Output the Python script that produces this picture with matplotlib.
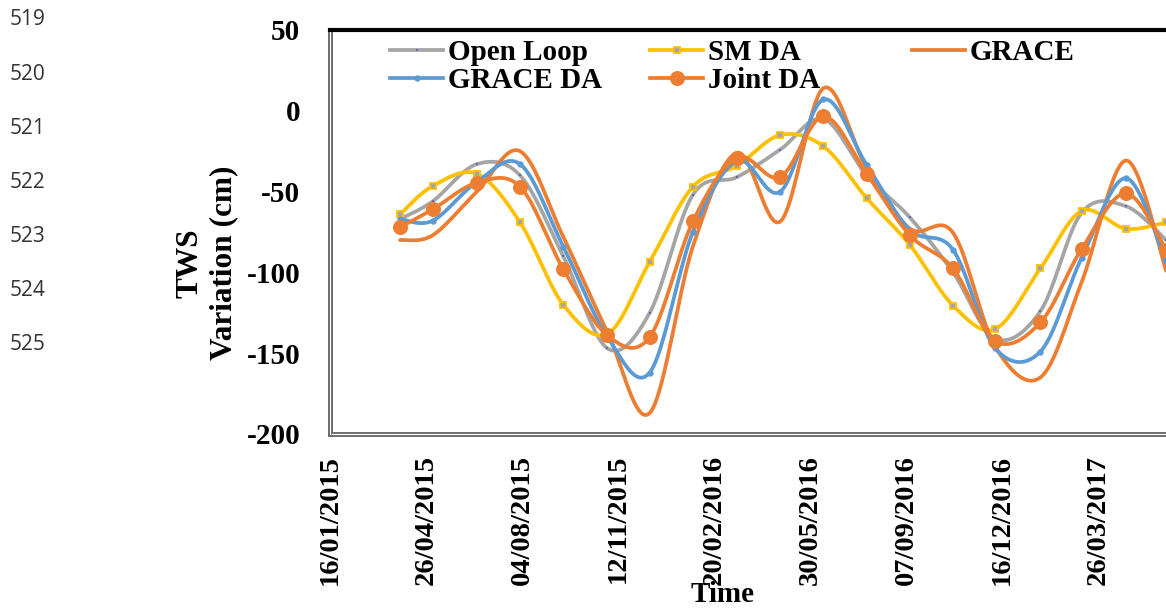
import numpy as np
import matplotlib
matplotlib.use("Agg")
import matplotlib.pyplot as plt
import matplotlib.dates as mdates
from matplotlib.lines import Line2D
import datetime as dt

# ---------------- data ----------------
dates = ["30/03/2015", "03/05/2015", "18/06/2015", "02/08/2015", "16/09/2015",
         "01/11/2015", "15/12/2015", "29/01/2016", "15/03/2016", "29/04/2016",
         "13/06/2016", "28/07/2016", "11/09/2016", "26/10/2016", "09/12/2016",
         "25/01/2017", "09/03/2017", "24/04/2017", "05/06/2017"]
open_loop = [-67, -56, -33, -40, -90, -147, -125, -52, -41, -24, -5, -40,
             -66, -100, -141, -124, -63, -59, -80]
sm_da = [-64, -46.5, -39, -69, -120, -138, -93.5, -47, -34, -15, -22, -54,
         -83, -120.5, -135, -97.5, -62, -73, -69]
grace = [-80, -77, -50, -25, -78, -137, -187, -84, -26, -68.5, 14, -35.5,
         -73, -75.5, -146, -165, -106, -30.8, -99]
grace_da = [-67, -68, -44, -33, -84, -140, -162, -75, -31, -50, 7, -33.4,
            -73.6, -86, -147, -149, -91, -41.7, -93]
joint_da = [-72, -61, -44.5, -47, -98, -139, -140, -68.5, -29, -41, -3.5, -39,
            -77, -97.5, -142.5, -131, -85.5, -51, -86]

tick_labels = ["16/01/2015", "26/04/2015", "04/08/2015", "12/11/2015",
               "20/02/2016", "30/05/2016", "07/09/2016", "16/12/2016",
               "26/03/2017"]
y_ticks = [50, 0, -50, -100, -150, -200]
line_numbers = ["519", "520", "521", "522", "523", "524", "525"]


def to_num(s):
    return mdates.date2num(dt.datetime.strptime(s, "%d/%m/%Y"))


def smooth(x, y, n=40):
    # Excel-style smoothed line (Catmull-Rom via cubic Bezier)
    P = np.column_stack([x, y]).astype(float)
    P = np.vstack([P[0], P, P[-1]])
    out = []
    t = np.linspace(0, 1, n)[:, None]
    for i in range(1, len(P) - 2):
        p0, p1, p2, p3 = P[i - 1], P[i], P[i + 1], P[i + 2]
        c1 = p1 + (p2 - p0) / 6.0
        c2 = p2 - (p3 - p1) / 6.0
        seg = ((1 - t) ** 3) * p1 + 3 * ((1 - t) ** 2) * t * c1 + \
            3 * (1 - t) * t ** 2 * c2 + t ** 3 * p2
        out.append(seg if i == 1 else seg[1:])
    out = np.vstack(out)
    return out[:, 0], out[:, 1]


W, H = 1166, 608
fig = plt.figure(figsize=(W / 100, H / 100), dpi=100)
fig.patch.set_facecolor("white")

SERIF = "Liberation Serif"

ax_left, ax_right, ax_top, ax_bot = 330, 1180, 30, 434
ax = fig.add_axes([ax_left / W, 1 - ax_bot / H, (ax_right - ax_left) / W,
                   (ax_bot - ax_top) / H])

xnum = np.array([to_num(d) for d in dates])
tick_pos = [to_num(s) for s in tick_labels]
start = tick_pos[0]
px_per_day = (1098 - 330) / 800.0
ax.set_xlim(start, start + (ax_right - ax_left) / px_per_day)
ax.set_ylim(-200, 50)

C_GRAY = "#A5A5A5"
C_YEL = "#FFC000"
C_ORG = "#ED7D31"
C_BLUE = "#5B9BD5"
LW = 2.7

series = [
    ("Open Loop", open_loop, C_GRAY, dict(marker="s", ms=1.8, mfc="#5b6fa6", mec="#5b6fa6", mew=0)),
    ("SM DA", sm_da, C_YEL, dict(marker="s", ms=4.3, mfc=C_GRAY, mec=C_YEL, mew=1.3)),
    ("GRACE", grace, C_ORG, None),
    ("GRACE DA", grace_da, C_BLUE, dict(marker="o", ms=4.6, mfc=C_BLUE, mec=C_BLUE, mew=0)),
    ("Joint DA", joint_da, C_ORG, dict(marker="o", ms=10.8, mfc=C_ORG, mec=C_ORG, mew=0)),
]

for k, (name, vals, col, mk) in enumerate(series):
    sx, sy = smooth(xnum, vals)
    ax.plot(sx, sy, color=col, lw=LW, solid_capstyle="round", zorder=3 + k)
    if mk is not None:
        ax.plot(xnum, vals, linestyle="none", zorder=3 + k, **mk)

# axes styling
ax.set_xticks(tick_pos)
ax.set_xticklabels(tick_labels, rotation=90, fontsize=20.5, fontweight="bold",
                   family=SERIF, va="top", ha="center")
ax.set_yticks(y_ticks)
ax.set_yticklabels([str(v) for v in y_ticks], fontsize=21, fontweight="bold",
                   family=SERIF)
ax.tick_params(axis="both", length=0)
ax.tick_params(axis="y", pad=21.5)
ax.tick_params(axis="x", pad=15)

ax.spines["right"].set_visible(False)
ax.spines["top"].set_color("black")
ax.spines["top"].set_linewidth(3.0)
for s in ("left", "bottom"):
    ax.spines[s].set_color("#6e6e6e")
    ax.spines[s].set_linewidth(3.6)
ax.plot([0, 0], [0, 0.995], transform=ax.transAxes, color="white", lw=0.8,
        clip_on=False, zorder=10)
ax.plot([0.002, 1], [0, 0], transform=ax.transAxes, color="white", lw=0.8,
        clip_on=False, zorder=10)

# manual legend (fixed column positions)
def fx(px):
    return px / W


def fy(py):
    return 1 - py / H


legend_items = [
    (0, 0, 0), (1, 1, 0), (2, 2, 0), (3, 0, 1), (4, 1, 1)
]
col_x = [390, 650, 912]
row_y = [50, 78]
for idx, c, r in legend_items:
    name, vals, col, mk = series[idx]
    x0 = col_x[c]
    y0 = row_y[r]
    fig.add_artist(Line2D([fx(x0), fx(x0 + 53)], [fy(y0), fy(y0)], color=col,
                          lw=LW, transform=fig.transFigure, zorder=20))
    if mk is not None:
        fig.add_artist(Line2D([fx(x0 + 26.5)], [fy(y0)], linestyle="none",
                              transform=fig.transFigure, zorder=21, **mk))
    fig.text(fx(x0 + 58), fy(y0 + 10.5), name, fontsize=21, fontweight="bold",
             family=SERIF, ha="left", va="baseline", zorder=22)

# axis titles
fig.text(fx(207), fy(263), "TWS\nVariation (cm)", rotation=90, fontsize=22.5,
         fontweight="bold", family=SERIF, ha="center", va="center",
         multialignment="center", linespacing=1.2)
fig.text(fx(723), fy(595), "Time", fontsize=21, fontweight="bold",
         family=SERIF, ha="center", va="center")

# document line numbers
ln_y = [19.5, 74.5, 129, 182.5, 237, 290.5, 344.5]
for lab, yy in zip(line_numbers, ln_y):
    fig.text(fx(10), fy(yy), lab, fontsize=15, family="Open Sans",
             color="#333333", ha="left", va="center")

fig.savefig("out.png", dpi=100, facecolor="white")
